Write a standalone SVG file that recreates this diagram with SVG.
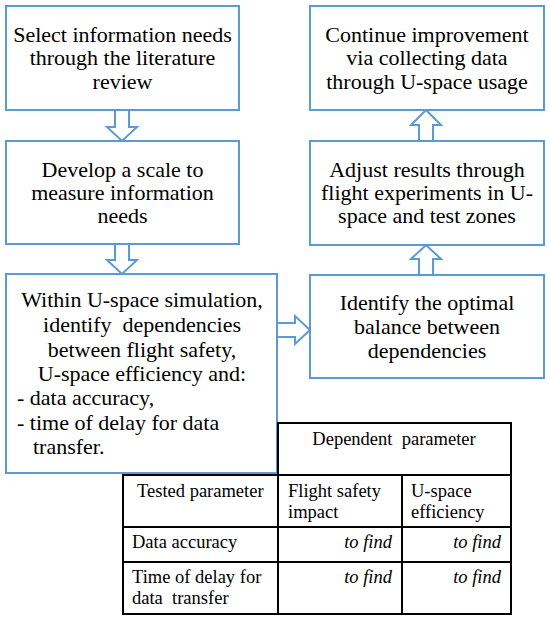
<svg xmlns="http://www.w3.org/2000/svg" width="550" height="621" viewBox="0 0 550 621">
<style>
.box{fill:#fff;stroke:#5B9BD5;stroke-width:2}
.arr{fill:#fff;stroke:#5B9BD5;stroke-width:2;stroke-linejoin:miter}
.t{font-size:22px;fill:#000;text-anchor:middle}
.tl{text-anchor:start}
.tb{font-size:18.5px;fill:#000}
.it{font-style:italic;text-anchor:end}
.cell{fill:#fff;stroke:#000;stroke-width:2}
</style>
<rect width="550" height="621" fill="#fff"/>
<g id="connectors">
<path class="arr" d="M115,110 V127 H107 L122,141 L137,127 H129 V110 Z"/>
<path class="arr" d="M115,244 V260 H107 L122,274 L137,260 H129 V244 Z"/>
<path class="arr" d="M419,141 V125 H411 L426,110 L441,125 H433 V141 Z"/>
<path class="arr" d="M419,275 V259 H411 L426,245 L441,259 H433 V275 Z"/>
<path class="arr" d="M277,323 H295 V316 L310,330 L295,344 V337 H277 Z"/>
</g>
<g font-family="Liberation Serif, Times New Roman, serif">
<g id="n1">
<rect class="box" x="6" y="6" width="233" height="104"/>
<text class="t" x="122.5" y="42">Select information needs</text>
<text class="t" x="122.5" y="65">through the literature</text>
<text class="t" x="122.5" y="89">review</text>
</g>
<g id="n2">
<rect class="box" x="6" y="141" width="233" height="103"/>
<text class="t" x="122.5" y="177">Develop a scale to</text>
<text class="t" x="122.5" y="200">measure information</text>
<text class="t" x="122.5" y="223">needs</text>
</g>
<g id="n3">
<rect class="box" x="6" y="274" width="271" height="199"/>
<text class="t" x="142" y="307">Within U-space simulation,</text>
<text class="t" x="142" y="332" xml:space="preserve">identify  dependencies</text>
<text class="t" x="142" y="357">between flight safety,</text>
<text class="t" x="142" y="381">U-space efficiency and:</text>
<text class="t tl" x="17" y="405">- data accuracy,</text>
<text class="t tl" x="17" y="430">- time of delay for data</text>
<text class="t tl" x="33" y="454">transfer.</text>
</g>
<g id="n4">
<rect class="box" x="310" y="6" width="234" height="104"/>
<text class="t" x="427" y="42">Continue improvement</text>
<text class="t" x="427" y="65">via collecting data</text>
<text class="t" x="427" y="89">through U-space usage</text>
</g>
<g id="n5">
<rect class="box" x="310" y="141" width="234" height="104"/>
<text class="t" x="427" y="177">Adjust results through</text>
<text class="t" x="427" y="200">flight experiments in U-</text>
<text class="t" x="427" y="223">space and test zones</text>
</g>
<g id="n6">
<rect class="box" x="310" y="275" width="234" height="103"/>
<text class="t" x="427" y="310">Identify the optimal</text>
<text class="t" x="427" y="334">balance between</text>
<text class="t" x="427" y="358">dependencies</text>
</g>
<g id="table">
<rect class="cell" x="278" y="423" width="233" height="52"/>
<rect class="cell" x="123" y="475" width="388" height="139"/>
<line x1="123" y1="527" x2="511" y2="527" stroke="#000" stroke-width="2"/>
<line x1="123" y1="562" x2="511" y2="562" stroke="#000" stroke-width="2"/>
<line x1="278" y1="475" x2="278" y2="614" stroke="#000" stroke-width="2"/>
<line x1="402" y1="475" x2="402" y2="614" stroke="#000" stroke-width="2"/>
<text class="tb" x="394" y="445" text-anchor="middle" xml:space="preserve">Dependent  parameter</text>
<text class="tb" x="137" y="497">Tested parameter</text>
<text class="tb" x="288" y="497">Flight safety</text>
<text class="tb" x="288" y="518">impact</text>
<text class="tb" x="411" y="497">U-space</text>
<text class="tb" x="411" y="518">efficiency</text>
<text class="tb" x="132" y="548">Data accuracy</text>
<text class="tb it" x="392" y="548">to find</text>
<text class="tb it" x="501" y="548">to find</text>
<text class="tb" x="132" y="583">Time of delay for</text>
<text class="tb" x="132" y="604" xml:space="preserve">data  transfer</text>
<text class="tb it" x="392" y="583">to find</text>
<text class="tb it" x="501" y="583">to find</text>
</g>
</g>
</svg>
